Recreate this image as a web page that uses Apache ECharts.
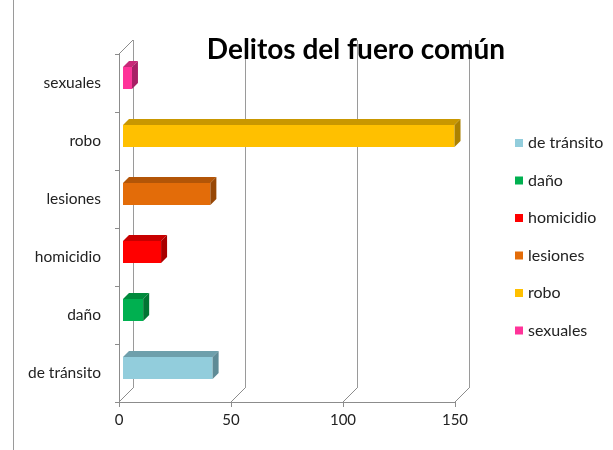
<!DOCTYPE html>
<html><head><meta charset="utf-8">
<script src="https://cdn.jsdelivr.net/npm/echarts@6/dist/echarts.min.js"></script>
<style>html,body{margin:0;padding:0;background:#fff}#c{width:613px;height:450px}</style>
</head><body><div id="c"></div>
<script>
const categories = ['de tránsito', 'daño', 'homicidio', 'lesiones', 'robo', 'sexuales'];
const values = [40, 9, 17, 39, 148, 4];
const xTicks = [0, 50, 100, 150];
const frontColors = ['#92CDDC', '#00B050', '#FF0000', '#E36C09', '#FFC000', '#FF3399'];
const topColors = ['#6E9FAB', '#008A3C', '#C80000', '#B35507', '#C99700', '#C82878'];
const sideColors = ['#5F8B96', '#007533', '#A80000', '#974705', '#AC8100', '#A82066'];

const FONT = 'Lato, "Liberation Sans", sans-serif';
const DEPTH = 14;      // wall depth offset in px
const BAR_OFF = 4;     // bar front offset inside depth
const BAR_D = 6;       // bar depth
const BAR_H = 22;      // bar thickness

const chart = echarts.init(document.getElementById('c'), null, {renderer: 'canvas'});

function barRender(idx) {
  return function (params, api) {
    const v = api.value(0);
    const c = api.value(1);
    const p0 = api.coord([0, c]);
    const p1 = api.coord([v, c]);
    const x0 = p0[0] + BAR_OFF, x1 = p1[0] + BAR_OFF;
    const yc = p0[1] - BAR_OFF - 1;
    const yT = yc - BAR_H / 2, yB = yc + BAR_H / 2;
    const d = BAR_D;
    return {
      type: 'group',
      children: [
        {type: 'rect', shape: {x: x0, y: yT, width: x1 - x0, height: BAR_H}, style: {fill: frontColors[idx]}},
        {type: 'polygon', shape: {points: [[x0, yT], [x1, yT], [x1 + d, yT - d], [x0 + d, yT - d]]}, style: {fill: topColors[idx]}},
        {type: 'polygon', shape: {points: [[x1, yT], [x1 + d, yT - d], [x1 + d, yB - d], [x1, yB]]}, style: {fill: sideColors[idx]}}
      ]
    };
  };
}

const series = categories.map((name, i) => ({
  name: name,
  type: 'custom',
  xAxisIndex: 0, yAxisIndex: 0,
  itemStyle: {color: frontColors[i]},
  renderItem: barRender(i),
  encode: {x: 0, y: 1},
  data: [[values[i], i]],
  z: 5
}));

// 3D frame (floor slants and left wall top slant)
series.push({
  type: 'custom',
  name: 'frame',
  xAxisIndex: 0, yAxisIndex: 0,
  silent: true,
  renderItem: function (params, api) {
    const cs = params.coordSys;
    const x = api.coord([api.value(0), 0])[0];
    const yb = cs.y + cs.height;
    const children = [{type: 'line', shape: {x1: x, y1: yb, x2: x + DEPTH, y2: yb - DEPTH}, style: {stroke: '#8c8c8c', lineWidth: 1}}];
    if (params.dataIndex === 0) {
      children.push({type: 'line', shape: {x1: x, y1: cs.y, x2: x + DEPTH, y2: cs.y - DEPTH}, style: {stroke: '#8c8c8c', lineWidth: 1}});
    }
    return {type: 'group', children: children};
  },
  encode: {x: 0},
  data: xTicks.map(t => [t]),
  z: 1
});

chart.setOption({
  animation: false,
  backgroundColor: '#fff',
  title: {
    text: 'Delitos del fuero común',
    left: 351, top: 31, textAlign: 'center',
    textStyle: {fontFamily: FONT, fontWeight: 'bold', fontSize: 28, color: '#000'}
  },
  legend: {
    orient: 'vertical',
    left: 510, top: 129,
    data: categories,
    icon: 'rect',
    itemWidth: 8, itemHeight: 8,
    itemGap: 19.5,
    textStyle: {fontFamily: FONT, fontSize: 16, color: '#222', lineHeight: 18}
  },
  grid: [
    {left: 119, top: 54, width: 336, height: 348},
    {left: 133, top: 40, width: 336, height: 348}
  ],
  xAxis: [
    {
      gridIndex: 0, type: 'value', min: 0, max: 150, interval: 50,
      axisLine: {show: true, lineStyle: {color: '#8c8c8c'}},
      axisTick: {show: true, length: 5, lineStyle: {color: '#8c8c8c'}},
      axisLabel: {fontFamily: FONT, fontSize: 15, color: '#222', margin: 11},
      splitLine: {show: false}
    },
    {
      gridIndex: 1, type: 'value', min: 0, max: 150, interval: 50,
      axisLine: {show: false}, axisTick: {show: false}, axisLabel: {show: false},
      splitLine: {show: true, lineStyle: {color: '#9a9a9a', width: 1}}
    }
  ],
  yAxis: [
    {
      gridIndex: 0, type: 'category', data: categories,
      axisLine: {show: true, lineStyle: {color: '#8c8c8c'}},
      axisTick: {show: true, length: 4, lineStyle: {color: '#8c8c8c'}},
      axisLabel: {fontFamily: FONT, fontSize: 15.5, color: '#222', margin: 18},
      splitLine: {show: false}
    },
    {
      gridIndex: 1, type: 'category', data: categories,
      axisLine: {show: false}, axisTick: {show: false}, axisLabel: {show: false},
      splitLine: {show: false}
    }
  ],
  graphic: [
    {type: 'line', shape: {x1: 13.5, y1: 0, x2: 13.5, y2: 450}, style: {stroke: '#9a9a9a', lineWidth: 1}}
  ],
  series: series
});
</script>
</body></html>
